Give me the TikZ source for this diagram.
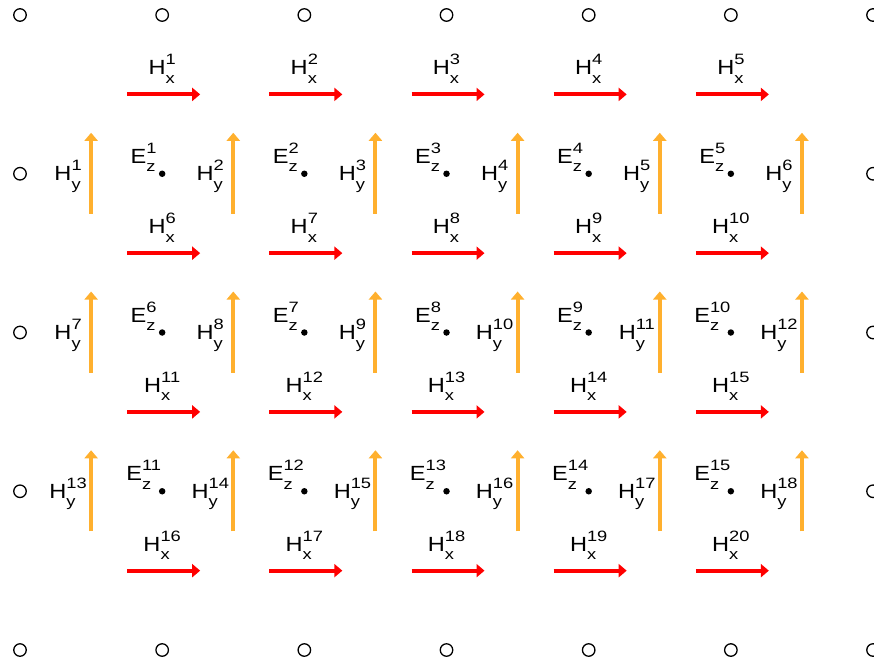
\documentclass[tikz,border=0pt]{standalone}
\usepackage{fontspec}
\setmainfont{Liberation Sans}
\newfontfamily\labbase[FakeStretch=1.15]{Liberation Sans}
\newfontfamily\labscr[FakeStretch=1.22]{Liberation Sans}
\usetikzlibrary{arrows.meta}
\definecolor{hxred}{RGB}{255,0,0}
\definecolor{hyorange}{RGB}{255,176,46}
\newcommand{\fieldlab}[3]{{\labbase\fontsize{20.5}{20.5}\selectfont #1}\rlap{\raisebox{-8.5pt}{\labscr\fontsize{15}{15}\selectfont #2}}\raisebox{10pt}{\labscr\fontsize{15}{15}\selectfont #3}}
\begin{document}
\begin{tikzpicture}[x=1pt,y=-1pt,
  every node/.style={inner sep=0pt},
  gridcirc/.style={circle, draw, line width=1.3pt, minimum size=12.5pt, inner sep=0pt},
  ezdot/.style={circle, fill, minimum size=6.5pt, inner sep=0pt},
  hxarrow/.style={draw=hxred, line width=4pt, -{Triangle[length=8pt,width=13pt]}},
  hyarrow/.style={draw=hyorange, line width=4pt, -{Triangle[length=8pt,width=13pt]}},
  lab/.style={anchor=base}]
\useasboundingbox (0,0) rectangle (874,665);
% boundary circles
\foreach \i in {0,...,6}{
  \foreach \j in {0,4}{
    \node[gridcirc] (c-\i-\j) at ({20+142.17*\i},{15+158.75*\j}) {};
  }
}
\foreach \j in {1,2,3}{
  \foreach \i in {0,6}{
    \node[gridcirc] (c-\i-\j) at ({20+142.17*\i},{15+158.75*\j}) {};
  }
}
% E_z dots and labels
\foreach \j in {1,2,3}{
  \foreach \i in {1,...,5}{
    \pgfmathtruncatemacro{\n}{(\j-1)*5+\i}
    \node[ezdot] (ez\n) at ({20+142.17*\i},{15+158.75*\j}) {};
    \node[lab] (ezl\n) at ({20+142.17*\i-18.5},{15+158.75*\j-10.5}) {\fieldlab{E}{z}{\n}};
  }
}
% H_x arrows and labels
\foreach \j in {0,...,3}{
  \foreach \i in {1,...,5}{
    \pgfmathtruncatemacro{\n}{\j*5+\i}
    \coordinate (hxs\n) at ({20+142.17*\i-35},{15+158.75*\j+79.4});
    \coordinate (hxe\n) at ({20+142.17*\i+38},{15+158.75*\j+79.4});
    \draw[hxarrow] (hxs\n) -- (hxe\n);
    \node[lab] (hxl\n) at ({20+142.17*\i},{15+158.75*\j+79.4-19.5}) {\fieldlab{H}{x}{\n}};
  }
}
% H_y arrows and labels
\foreach \j in {1,2,3}{
  \foreach \i in {0,...,5}{
    \pgfmathtruncatemacro{\n}{(\j-1)*6+\i+1}
    \coordinate (hys\n) at ({20+142.17*\i+71.1},{15+158.75*\j+40});
    \coordinate (hye\n) at ({20+142.17*\i+71.1},{15+158.75*\j-41});
    \draw[hyarrow] (hys\n) -- (hye\n);
    \node[lab] (hyl\n) at ({20+142.17*\i+71.1-23},{15+158.75*\j+7}) {\fieldlab{H}{y}{\n}};
  }
}
\end{tikzpicture}
\end{document}
